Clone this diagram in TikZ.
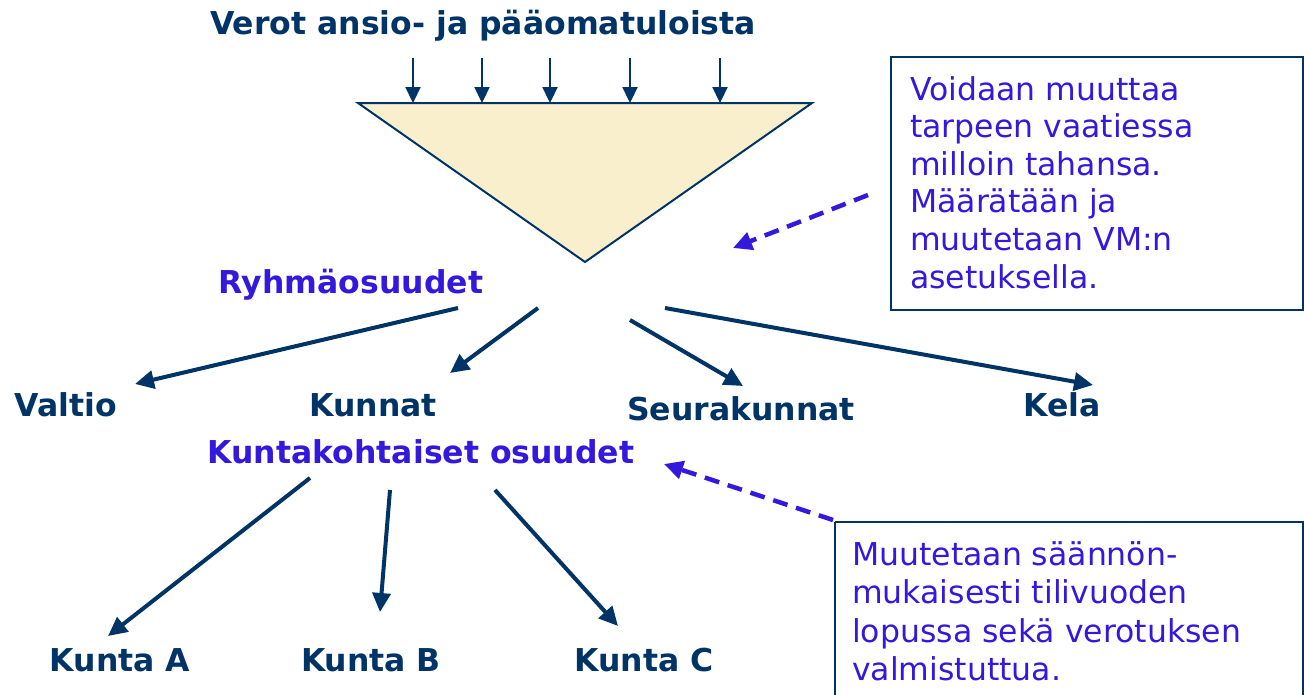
\documentclass[tikz,border=0pt]{standalone}
\usepackage{fontspec}
\setmainfont{DejaVu Sans}
\usetikzlibrary{arrows.meta}
\definecolor{navy}{HTML}{003366}
\definecolor{vio}{HTML}{3318DD}
\definecolor{tri}{HTML}{FAEFCD}
\tikzset{
  lbl/.style={font=\fontsize{31.5}{36}\selectfont\bfseries, text=navy, inner sep=0pt, anchor=base},
  blbl/.style={font=\fontsize{31.5}{36}\selectfont\bfseries, text=vio, inner sep=0pt, anchor=base},
  flow/.style={draw=navy, line width=4pt, -{Triangle[length=19pt,width=18pt]}},
  inarr/.style={draw=navy, line width=2.2pt, -{Triangle[length=16pt,width=15pt]}},
  dasharr/.style={draw=vio, line width=4.5pt, dash pattern=on 15pt off 9pt, -{Triangle[length=19pt,width=18pt]}},
  note/.style={draw=navy, line width=1.8pt},
  notetxt/.style={text=vio, align=left, anchor=north west, inner sep=0pt}
}
\begin{document}
\begin{tikzpicture}[x=1pt,y=-1pt]
\useasboundingbox (0,0) rectangle (1304,694);
% title
\node[lbl] (title) at (483,34) {Verot ansio- ja pääomatuloista};
% triangle
\coordinate (tl) at (358,103);
\coordinate (tr) at (812,103);
\coordinate (tb) at (585,262);
\filldraw[fill=tri, draw=navy, line width=2pt, line join=miter] (tl) -- (tr) -- (tb) -- cycle;
\foreach \x/\n in {413/a,482/b,550/c,630/d,720/e}{
  \coordinate (in\n s) at (\x,58);
  \coordinate (in\n e) at (\x,103);
  \draw[inarr] (in\n s) -- (in\n e);
}
% note 1
\draw[note] (891,57) rectangle (1303,310);
\node[notetxt, font=\fontsize{31.5}{37.6}\selectfont] (n1) at (910,76) {Voidaan muuttaa\\tarpeen vaatiessa\\milloin tahansa.\\Määrätään ja\\muutetaan VM:n\\asetuksella.};
\coordinate (d1s) at (868,195);
\coordinate (d1e) at (733,248);
\draw[dasharr] (d1s) -- (d1e);
% group
\node[blbl] (ryhma) at (351,293) {Ryhmäosuudet};
\coordinate (r1) at (458,308);
\coordinate (r2) at (538,308);
\coordinate (r3) at (630,320);
\coordinate (r4) at (665,308);
\node[lbl] (valtio) at (66,416) {Valtio};
\node[lbl] (kunnat) at (373,416) {Kunnat};
\node[lbl] (seura) at (741,420) {Seurakunnat};
\node[lbl] (kela) at (1062,416) {Kela};
\coordinate (e1) at (135,384);
\coordinate (e2) at (450,373);
\coordinate (e3) at (743,386);
\coordinate (e4) at (1093,385);
\draw[flow] (r1) -- (e1);
\draw[flow] (r2) -- (e2);
\draw[flow] (r3) -- (e3);
\draw[flow] (r4) -- (e4);
% municipal
\node[blbl] (kko) at (421,463) {Kuntakohtaiset osuudet};
\coordinate (k1) at (310,478);
\coordinate (k2) at (390,490);
\coordinate (k3) at (495,490);
\coordinate (f1) at (108,636);
\coordinate (f2) at (380,612);
\coordinate (f3) at (618,626);
\draw[flow] (k1) -- (f1);
\draw[flow] (k2) -- (f2);
\draw[flow] (k3) -- (f3);
\node[lbl] (ka) at (120,671) {Kunta A};
\node[lbl] (kb) at (371,671) {Kunta B};
\node[lbl] (kc) at (644,671) {Kunta C};
% note 2
\draw[note] (835,522) -- (1303,522) -- (1303,700) (835,700) -- (835,522);
\node[notetxt, font=\fontsize{31.5}{38.5}\selectfont] (n2) at (852,541) {Muutetaan säännön-\\mukaisesti tilivuoden\\lopussa sekä verotuksen\\valmistuttua.};
\coordinate (d2s) at (833,520);
\coordinate (d2e) at (664,464);
\draw[dasharr] (d2s) -- (d2e);
\end{tikzpicture}
\end{document}
